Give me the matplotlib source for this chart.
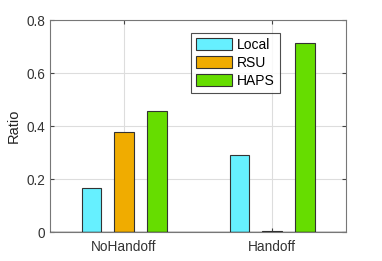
import numpy as np
import matplotlib
matplotlib.use('Agg')
import matplotlib.pyplot as plt

plt.rcParams['font.family'] = ['Liberation Sans', 'DejaVu Sans']

# Data
categories = ['NoHandoff', 'Handoff']
local_vals = [0.167, 0.289]
rsu_vals = [0.376, 0.002]
haps_vals = [0.457, 0.712]
series_names = ['Local', 'RSU', 'HAPS']
colors = ['#66F0FF', '#F0AC00', '#66DD00']

fig = plt.figure(figsize=(3.82, 2.61), dpi=100)
ax = fig.add_axes([0.131, 0.111, 0.775, 0.812])

x = np.arange(1, len(categories) + 1)
offsets = [-0.222, 0.0, 0.222]
width = 0.13
for vals, name, col, off in zip([local_vals, rsu_vals, haps_vals], series_names, colors, offsets):
    ax.bar(x + off, vals, width, color=col, edgecolor='#333333', linewidth=0.8,
           label=name, zorder=3)

# baseline drawn by the bar chart
ax.axhline(0, color='#222222', linewidth=1.0, zorder=4)

ax.set_xlim(0.5, 2.5)
ax.set_ylim(0, 0.8)
ax.set_xticks(x)
ax.set_xticklabels(categories)
ax.set_yticks([0, 0.2, 0.4, 0.6, 0.8])
ax.set_yticklabels(['0', '0.2', '0.4', '0.6', '0.8'])
ax.set_ylabel('Ratio', fontsize=10.5, color='#222222')
ax.tick_params(direction='in', top=True, right=True, labelsize=9.8, length=3,
               color='#444444', labelcolor='#333333')
ax.tick_params(axis='x', pad=6)
ax.grid(True, color='#DDDDDD', linewidth=0.8, zorder=0)
for sp in ax.spines.values():
    sp.set_color('#777777')
    sp.set_linewidth(0.8)

leg = ax.legend(loc='upper left', bbox_to_anchor=(0.477, 0.94), fontsize=10,
                frameon=True, fancybox=False, edgecolor='#222222',
                handlelength=2.6, handleheight=1.0, borderpad=0.35,
                labelspacing=0.3, handletextpad=0.35, borderaxespad=0)
leg.get_frame().set_linewidth(0.8)

fig.savefig('out.png', dpi=100)
